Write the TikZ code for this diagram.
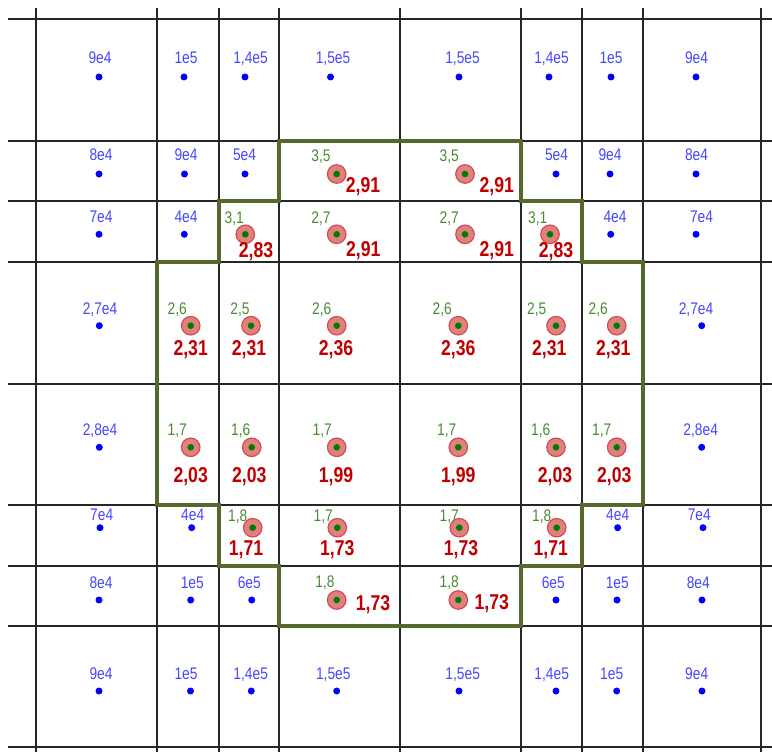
\documentclass[tikz,border=0pt]{standalone}
\usepackage{fontspec}
\setmainfont{Liberation Sans}
\newfontfamily\narrowsans{Liberation Sans}[FakeStretch=0.82]
\usepackage{xcolor}
\usepackage{tikz}
\definecolor{ptblue}{RGB}{0,0,255}
\definecolor{txtblue}{RGB}{70,70,255}
\definecolor{txtgreen}{RGB}{70,140,50}
\definecolor{valred}{RGB}{192,0,0}
\definecolor{ringfill}{RGB}{226,128,128}
\definecolor{ringdraw}{RGB}{205,80,80}
\definecolor{coregreen}{RGB}{0,125,0}
\definecolor{zonegreen}{RGB}{85,105,45}
\tikzset{
  gridline/.style={draw=black!85, line width=1.1pt},
  zone/.style={draw=zonegreen, line width=4.2pt, line join=miter},
  bdot/.style={circle, fill=ptblue, inner sep=0pt, minimum size=7pt},
  rdot/.style={circle, fill=ringfill, draw=ringdraw, line width=1.2pt,
               inner sep=0pt, minimum size=18.5pt,
               path picture={\fill[coregreen] (path picture bounding box.center) circle (3.3pt);}},
  blab/.style={inner sep=0pt, text depth=0pt, text=txtblue,
               font=\narrowsans\fontsize{16.8}{17}\selectfont},
  glab/.style={blab, text=txtgreen},
  vlab/.style={inner sep=0pt, text depth=0pt, text=valred,
               font=\narrowsans\bfseries\fontsize{21.5}{22}\selectfont},
}

\begin{document}
\begin{tikzpicture}[x=1pt, y=-1pt]
  \useasboundingbox (0,0) rectangle (772,752);

  %% === Grid ===
  \draw[gridline] (36,8) -- (36,752)   (157,8) -- (157,752) (219,8) -- (219,752)
                  (279,8) -- (279,752) (400,8) -- (400,752) (521,8) -- (521,752)
                  (582,8) -- (582,752) (643,8) -- (643,752) (761,8) -- (761,752);
  \draw[gridline] (8,19) -- (772,19)   (8,141) -- (772,141) (8,201) -- (772,201)
                  (8,262) -- (772,262) (8,384) -- (772,384) (8,505) -- (772,505)
                  (8,566) -- (772,566) (8,626) -- (772,626) (8,747) -- (772,747);

  %% === Zone outline ===
  \draw[zone] (279,141) -- (521,141) -- (521,201) -- (582,201) -- (582,262)
    -- (643,262) -- (643,505) -- (582,505) -- (582,566) -- (521,566)
    -- (521,626) -- (279,626) -- (279,566) -- (219,566) -- (219,505)
    -- (157,505) -- (157,262) -- (219,262) -- (219,201) -- (279,201) -- cycle;

  %% === Row 1 ===
  \node[bdot] (b11) at (99,77) {};    \node[blab] (b11t) at (100,58) {9e4};
  \node[bdot] (b12) at (184,77) {};   \node[blab] (b12t) at (186,58) {1e5};
  \node[bdot] (b13) at (245,77) {};   \node[blab] (b13t) at (250.5,58) {1,4e5};
  \node[bdot] (b14) at (330.5,77) {}; \node[blab] (b14t) at (333,58) {1,5e5};
  \node[bdot] (b15) at (459,77) {};   \node[blab] (b15t) at (462.5,58) {1,5e5};
  \node[bdot] (b16) at (549,77) {};   \node[blab] (b16t) at (551.5,58) {1,4e5};
  \node[bdot] (b17) at (611,77) {};   \node[blab] (b17t) at (611,58) {1e5};
  \node[bdot] (b18) at (696,77) {};   \node[blab] (b18t) at (696.5,58) {9e4};

  %% === Row 2 ===
  \node[bdot] (b21) at (99,174) {};    \node[blab] (b21t) at (101,155) {8e4};
  \node[bdot] (b22) at (184.5,174) {}; \node[blab] (b22t) at (186,155) {9e4};
  \node[bdot] (b23) at (245,174) {};   \node[blab] (b23t) at (244.5,155) {5e4};
  \node[rdot] (p24) at (336.7,174) {}; \node[glab] (p24g) at (321,156) {3,5};
  \node[vlab] (p24v) at (363,185) {2,91};
  \node[rdot] (p25) at (465,174) {};   \node[glab] (p25g) at (449.3,156) {3,5};
  \node[vlab] (p25v) at (496.7,185) {2,91};
  \node[bdot] (b26) at (556,174) {};   \node[blab] (b26t) at (556.5,155) {5e4};
  \node[bdot] (b27) at (610,174) {};   \node[blab] (b27t) at (610,155) {9e4};
  \node[bdot] (b28) at (696,174) {};   \node[blab] (b28t) at (696.5,155) {8e4};

  %% === Row 3 ===
  \node[bdot] (b31) at (99,234.3) {};    \node[blab] (b31t) at (101,216.7) {7e4};
  \node[bdot] (b32) at (184.3,234.3) {}; \node[blab] (b32t) at (186,216.7) {4e4};
  \node[rdot] (p33) at (245.3,234.3) {}; \node[glab] (p33g) at (234.3,217.7) {3,1};
  \node[vlab] (p33v) at (256,249.5) {2,83};
  \node[rdot] (p34) at (336.7,234.3) {}; \node[glab] (p34g) at (321,217.7) {2,7};
  \node[vlab] (p34v) at (363.3,249.3) {2,91};
  \node[rdot] (p35) at (465,234.3) {};   \node[glab] (p35g) at (449.3,217.7) {2,7};
  \node[vlab] (p35v) at (496.7,249.3) {2,91};
  \node[rdot] (p36) at (550,234.3) {};   \node[glab] (p36g) at (537.7,217.7) {3,1};
  \node[vlab] (p36v) at (556,250) {2,83};
  \node[bdot] (b37) at (610.7,234.3) {}; \node[blab] (b37t) at (615,216.7) {4e4};
  \node[bdot] (b38) at (696,234.3) {};   \node[blab] (b38t) at (701.5,216.7) {7e4};

  %% === Row 4 ===
  \node[bdot] (b41) at (99.3,325.7) {};  \node[blab] (b41t) at (100,309) {2,7e4};
  \node[rdot] (p42) at (190.7,325.7) {}; \node[glab] (p42g) at (177.3,309) {2,6};
  \node[vlab] (p42v) at (190.7,348.3) {2,31};
  \node[rdot] (p43) at (251,325.7) {};   \node[glab] (p43g) at (240,309) {2,5};
  \node[vlab] (p43v) at (249,348.3) {2,31};
  \node[rdot] (p44) at (336.7,325.7) {}; \node[glab] (p44g) at (321.7,309) {2,6};
  \node[vlab] (p44v) at (336,348.3) {2,36};
  \node[rdot] (p45) at (458.3,325.7) {}; \node[glab] (p45g) at (442.3,309) {2,6};
  \node[vlab] (p45v) at (458.3,348.3) {2,36};
  \node[rdot] (p46) at (556,325.7) {};   \node[glab] (p46g) at (536.7,309) {2,5};
  \node[vlab] (p46v) at (549.3,348.3) {2,31};
  \node[rdot] (p47) at (616.7,325.7) {}; \node[glab] (p47g) at (598.3,309) {2,6};
  \node[vlab] (p47v) at (613.3,348.3) {2,31};
  \node[bdot] (b48) at (701.7,325.7) {}; \node[blab] (b48t) at (696,309) {2,7e4};

  %% === Row 5 ===
  \node[bdot] (b51) at (99.3,447.3) {};  \node[blab] (b51t) at (100,430) {2,8e4};
  \node[rdot] (p52) at (190.7,447.3) {}; \node[glab] (p52g) at (177.3,430) {1,7};
  \node[vlab] (p52v) at (190.7,475) {2,03};
  \node[rdot] (p53) at (251.7,447.3) {}; \node[glab] (p53g) at (240.7,430) {1,6};
  \node[vlab] (p53v) at (249.3,475) {2,03};
  \node[rdot] (p54) at (336.7,447.3) {}; \node[glab] (p54g) at (322.3,430) {1,7};
  \node[vlab] (p54v) at (336,475) {1,99};
  \node[rdot] (p55) at (458.3,447.3) {}; \node[glab] (p55g) at (446.7,430) {1,7};
  \node[vlab] (p55v) at (458.3,475) {1,99};
  \node[rdot] (p56) at (556,447.3) {};   \node[glab] (p56g) at (540.7,430) {1,6};
  \node[vlab] (p56v) at (555,475) {2,03};
  \node[rdot] (p57) at (616.7,447.3) {}; \node[glab] (p57g) at (601.7,430) {1,7};
  \node[vlab] (p57v) at (614.3,475) {2,03};
  \node[bdot] (b58) at (701.7,447.3) {}; \node[blab] (b58t) at (700.7,430) {2,8e4};

  %% === Row 6 ===
  \node[bdot] (b61) at (100,527.7) {};   \node[blab] (b61t) at (101.7,515) {7e4};
  \node[bdot] (b62) at (191.7,527.7) {}; \node[blab] (b62t) at (192.7,515) {4e4};
  \node[rdot] (p63) at (252.7,527.7) {}; \node[glab] (p63g) at (237.7,516) {1,8};
  \node[vlab] (p63v) at (246,548.3) {1,71};
  \node[rdot] (p64) at (337.3,527.7) {}; \node[glab] (p64g) at (323.3,516) {1,7};
  \node[vlab] (p64v) at (337.3,548.3) {1,73};
  \node[rdot] (p65) at (459.3,527.7) {}; \node[glab] (p65g) at (449.3,516) {1,7};
  \node[vlab] (p65v) at (461,548.3) {1,73};
  \node[rdot] (p66) at (556.7,527.7) {}; \node[glab] (p66g) at (541.7,516) {1,8};
  \node[vlab] (p66v) at (550.7,548.3) {1,71};
  \node[bdot] (b67) at (617.7,527.7) {}; \node[blab] (b67t) at (617.7,515) {4e4};
  \node[bdot] (b68) at (703,527.7) {};   \node[blab] (b68t) at (699.3,515) {7e4};

  %% === Row 7 ===
  \node[bdot] (b71) at (99,600) {};    \node[blab] (b71t) at (101,582.3) {8e4};
  \node[bdot] (b72) at (190.7,600) {}; \node[blab] (b72t) at (192.3,582.3) {1e5};
  \node[bdot] (b73) at (251.7,600) {}; \node[blab] (b73t) at (249.3,582.3) {6e5};
  \node[rdot] (p74) at (336.7,600) {}; \node[glab] (p74g) at (325,581.7) {1,8};
  \node[vlab] (p74v) at (373,602.7) {1,73};
  \node[rdot] (p75) at (458.3,600) {}; \node[glab] (p75g) at (449.3,581.7) {1,8};
  \node[vlab] (p75v) at (491.7,601.7) {1,73};
  \node[bdot] (b76) at (556,600) {};   \node[blab] (b76t) at (553.3,582.3) {6e5};
  \node[bdot] (b77) at (617,600) {};   \node[blab] (b77t) at (617.3,582.3) {1e5};
  \node[bdot] (b78) at (702,600) {};   \node[blab] (b78t) at (698.3,582.3) {8e4};

  %% === Row 8 ===
  \node[bdot] (b81) at (99,691) {};    \node[blab] (b81t) at (101,673.5) {9e4};
  \node[bdot] (b82) at (190.5,691) {}; \node[blab] (b82t) at (186,673.5) {1e5};
  \node[bdot] (b83) at (251.3,691) {}; \node[blab] (b83t) at (250.7,673.5) {1,4e5};
  \node[bdot] (b84) at (336.7,691) {}; \node[blab] (b84t) at (333.3,674) {1,5e5};
  \node[bdot] (b85) at (459,691) {};   \node[blab] (b85t) at (462.7,674) {1,5e5};
  \node[bdot] (b86) at (556,691) {};   \node[blab] (b86t) at (551.7,673.5) {1,4e5};
  \node[bdot] (b87) at (616.7,691) {}; \node[blab] (b87t) at (611.7,673.5) {1e5};
  \node[bdot] (b88) at (702,691) {};   \node[blab] (b88t) at (696.7,673.5) {9e4};
\end{tikzpicture}
\end{document}
